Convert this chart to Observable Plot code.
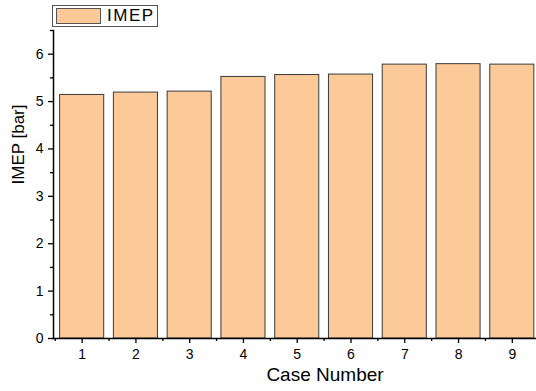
<!DOCTYPE html>
<html>
<head>
<meta charset="utf-8">
<script src="https://cdn.jsdelivr.net/npm/d3@7"></script>
<script src="https://cdn.jsdelivr.net/npm/@observablehq/plot@0.6"></script>
<style>
  html, body { margin: 0; padding: 0; background: #fff; }
  #wrap { position: relative; width: 536px; height: 391px; font-family: "Liberation Sans", Arial, sans-serif; }
  #legend { position: absolute; left: 52px; top: 5px; width: 106px; height: 22px; border: 1px solid #555; background: #fff; box-sizing: border-box; }
  #legend .sw { position: absolute; left: 3px; top: 2px; width: 45px; height: 16px; background: #FCC998; border: 1px solid #555; box-sizing: border-box; }
  #legend .lb { position: absolute; left: 54px; top: 0px; font-size: 17px; letter-spacing: 1.5px; line-height: 20px; color: #000; }
</style>
</head>
<body>
<div id="wrap">
  <div id="chart"></div>
  <div id="legend"><div class="sw"></div><div class="lb">IMEP</div></div>
</div>
<script>
const cases = [1, 2, 3, 4, 5, 6, 7, 8, 9];
const imep = [5.14, 5.19, 5.21, 5.52, 5.56, 5.57, 5.78, 5.79, 5.78];
const yMajorTicks = [0, 1, 2, 3, 4, 5, 6];
const yMinorTicks = [0.5, 1.5, 2.5, 3.5, 4.5, 5.5, 6.5];
const xMinorTicks = [0.5, 1.5, 2.5, 3.5, 4.5, 5.5, 6.5, 7.5, 8.5];

const data = cases.map((c, i) => ({case: c, imep: imep[i]}));
const halfWidth = 0.41;

const chart = Plot.plot({
  width: 536,
  height: 391,
  marginLeft: 53,
  marginRight: 0,
  marginTop: 30,
  marginBottom: 53,
  style: {fontFamily: "'Liberation Sans', Arial, sans-serif", fontSize: "14px", color: "#000", background: "#fff"},
  x: {type: "linear", domain: [0.467, 9.45]},
  y: {domain: [0, 6.5]},
  marks: [
    Plot.rectY(data, {x1: d => d.case - halfWidth, x2: d => d.case + halfWidth, y1: 0, y2: "imep", fill: "#FCC998", stroke: "#3a3a3a", strokeWidth: 1}),
    Plot.axisY({ticks: yMinorTicks, tickSize: 3, tickFormat: () => "", stroke: "#000", strokeWidth: 1.3, label: null}),
    Plot.axisY({ticks: yMajorTicks, tickSize: 5, tickPadding: 5, tickFormat: d3.format("d"), stroke: "#000", strokeWidth: 1.3, fontSize: 14, label: null}),
    Plot.axisX({ticks: xMinorTicks, tickSize: 3, tickFormat: () => "", stroke: "#000", strokeWidth: 1.3, label: null}),
    Plot.axisX({ticks: cases, tickSize: 5, tickPadding: 6, tickFormat: d3.format("d"), stroke: "#000", strokeWidth: 1.3, fontSize: 14, label: null}),
    Plot.frame({anchor: "left", stroke: "#000", strokeWidth: 1.5}),
    Plot.frame({anchor: "bottom", stroke: "#000", strokeWidth: 1.5}),
    Plot.text(["IMEP [bar]"], {frameAnchor: "left", dx: -35, rotate: -90, fontSize: 17, fill: "#000"}),
    Plot.text(["Case Number"], {frameAnchor: "bottom", dy: 42, dx: 30, fontSize: 19, fill: "#000"})
  ]
});
document.getElementById("chart").appendChild(chart);
</script>
</body>
</html>
